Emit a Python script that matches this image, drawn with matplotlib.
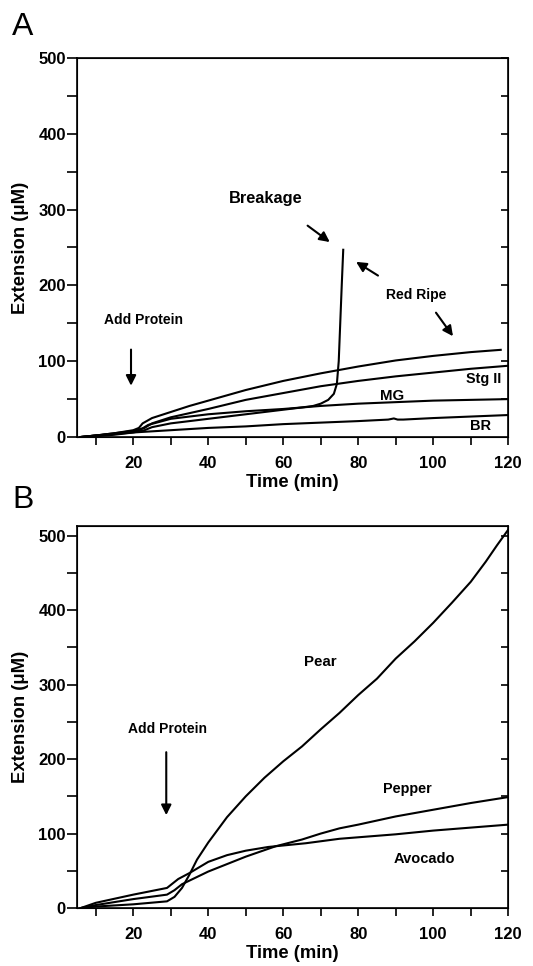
import matplotlib.pyplot as plt

plt.rcParams['font.family'] = ['Liberation Sans', 'DejaVu Sans']
plt.rcParams['font.weight'] = 'bold'

# panel A: tomato stages
t_redripe = [6, 10, 15, 20, 21.5, 22.5, 25, 30, 35, 40, 50, 60, 70, 80, 90, 100, 110, 118]
y_redripe = [0, 2, 5, 9, 12, 18, 25, 33, 41, 48, 62, 74, 84, 93, 101, 107, 112, 115]
t_stg2 = [6, 10, 15, 20, 23, 25, 30, 40, 50, 60, 70, 80, 90, 100, 110, 120]
y_stg2 = [0, 2, 5, 8, 12, 18, 26, 37, 49, 58, 67, 74, 80, 85, 90, 94]
t_mg = [6, 10, 15, 20, 22, 24, 30, 40, 50, 60, 70, 80, 90, 100, 110, 120]
y_mg = [0, 2, 4, 7, 10, 16, 24, 30, 34, 37, 41, 44, 46, 48, 49, 50]
t_break = [6, 10, 15, 20, 23, 25, 30, 40, 50, 60, 65, 68, 70, 72, 73.5, 74.3, 74.8, 75.2, 75.6, 76]
y_break = [0, 1, 3, 6, 9, 13, 18, 24, 30, 36, 39, 41, 44, 49, 57, 70, 100, 150, 200, 247]
t_br = [6, 10, 20, 30, 40, 50, 60, 70, 80, 88, 89.5, 90.5, 92, 100, 110, 120]
y_br = [0, 2, 6, 9, 12, 14, 17, 19, 21, 23, 24.5, 23, 23, 25, 27, 29]

# panel B: other fruits
t_pear = [6, 10, 20, 29, 31, 33, 35, 37, 40, 45, 50, 55, 60, 65, 70, 75, 80, 85, 90, 95, 100, 105, 110, 114, 117, 120]
y_pear = [0, 2, 5, 9, 15, 27, 45, 65, 88, 122, 150, 175, 197, 217, 240, 262, 286, 308, 335, 358, 383, 410, 438, 465, 487, 508]
t_avocado = [6, 10, 20, 29, 30.5, 32, 35, 40, 45, 50, 56, 60, 66, 75, 90, 100, 110, 120]
y_avocado = [0, 7, 18, 27, 33, 39, 47, 62, 71, 77, 82, 84, 87, 93, 99, 104, 108, 112]
t_pepper = [6, 10, 20, 29, 31, 33, 40, 50, 58, 65, 70, 75, 80, 90, 100, 110, 120]
y_pepper = [0, 4, 12, 18, 24, 32, 49, 69, 83, 92, 100, 107, 112, 123, 132, 141, 149]

fig = plt.figure(figsize=(5.33, 9.66), dpi=100)
axA = fig.add_axes([0.1445, 0.5476, 0.809, 0.3924])
axB = fig.add_axes([0.1445, 0.0600, 0.809, 0.3955])


def style(ax, ytop, xpad):
    ax.set_xlim(5, 120)
    ax.set_ylim(0, ytop)
    ax.set_xticks(range(10, 121, 10))
    ax.set_xticklabels([str(v) if v % 20 == 0 else '' for v in range(10, 121, 10)])
    ax.set_yticks(range(0, 501, 50))
    ax.set_yticklabels([str(v) if v % 100 == 0 else '' for v in range(0, 501, 50)])
    ax.tick_params(axis='x', direction='out', length=6, width=1.2, pad=7.5, labelsize=12)
    ax.tick_params(axis='y', direction='out', length=7, width=1.2, pad=1, labelsize=12)
    for lab in ax.get_xticklabels() + ax.get_yticklabels():
        lab.set_fontweight('bold')
    for s in ax.spines.values():
        s.set_linewidth(1.2)
    ax.set_xlabel('Time (min)', fontsize=13.3, fontweight='bold', labelpad=xpad)
    ax.set_ylabel('Extension (μM)', fontsize=13.3, fontweight='bold', labelpad=7)
    tw = ax.twinx()
    tw.set_ylim(0, ytop)
    tw.set_yticks(range(50, 501, 50))
    tw.tick_params(direction='in', length=5, width=1.2, labelright=False)


lw = 1.5
for t, y in [(t_redripe, y_redripe), (t_stg2, y_stg2), (t_mg, y_mg),
             (t_break, y_break), (t_br, y_br)]:
    axA.plot(t, y, color='black', lw=lw)
style(axA, 500, 2)

arr = dict(arrowstyle='-|>', color='black', lw=1.5, mutation_scale=15)
axA.text(22.6, 155, 'Add Protein', ha='center', va='center', fontsize=10, fontweight='bold')
axA.annotate('', xy=(19.4, 64), xytext=(19.4, 119), arrowprops=arr)
axA.text(55.4, 314, 'Breakage', ha='center', va='center', fontsize=11.8, fontweight='bold')
axA.annotate('', xy=(73, 255), xytext=(65.9, 281), arrowprops=arr)
axA.text(95.5, 187, 'Red Ripe', ha='center', va='center', fontsize=10, fontweight='bold')
axA.annotate('', xy=(78.8, 233), xytext=(85.9, 211), arrowprops=arr)
axA.annotate('', xy=(105.7, 130), xytext=(100.3, 167), arrowprops=arr)
axA.text(113.5, 77, 'Stg II', ha='center', va='center', fontsize=10.4, fontweight='bold')
axA.text(89, 54, 'MG', ha='center', va='center', fontsize=10.8, fontweight='bold')
axA.text(112.6, 14, 'BR', ha='center', va='center', fontsize=10.5, fontweight='bold')

for t, y in [(t_pear, y_pear), (t_avocado, y_avocado), (t_pepper, y_pepper)]:
    axB.plot(t, y, color='black', lw=lw)
style(axB, 513, 2)

axB.text(29, 240, 'Add Protein', ha='center', va='center', fontsize=10, fontweight='bold')
axB.annotate('', xy=(28.8, 121), xytext=(28.8, 213), arrowprops=arr)
axB.text(69.8, 330, 'Pear', ha='center', va='center', fontsize=10.8, fontweight='bold')
axB.text(93, 160, 'Pepper', ha='center', va='center', fontsize=10.4, fontweight='bold')
axB.text(97.7, 66, 'Avocado', ha='center', va='center', fontsize=10.5, fontweight='bold')

fig.text(12 / 533, 1 - 27 / 966, 'A', fontsize=23, fontweight='normal', va='center', ha='left')
fig.text(12 / 533, 1 - 500 / 966, 'B', fontsize=23, fontweight='normal', va='center', ha='left')

fig.savefig('out.png', dpi=100)
